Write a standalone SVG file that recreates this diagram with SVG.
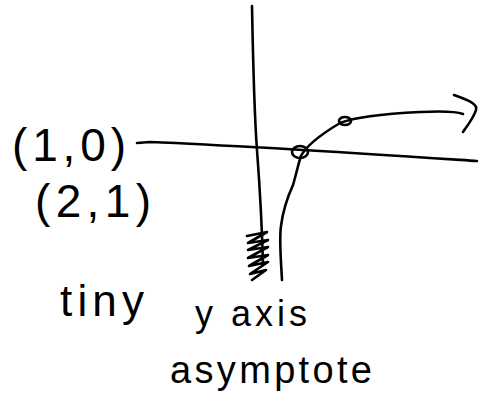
<svg xmlns="http://www.w3.org/2000/svg" width="487" height="405" viewBox="0 0 487 405">
<style>
.ln{fill:none;stroke:#000;stroke-width:2.6;stroke-linecap:round;stroke-linejoin:round}
.t{font-family:"Liberation Sans","DejaVu Sans",sans-serif;fill:#000}
</style>
<rect width="487" height="405" fill="#fff"/>
<g id="connectors">
<path id="y-axis" class="ln" d="M252,6 C253,60 254,110 257,150 C260,190 262,225 263,265"/>
<path id="x-axis" class="ln" d="M137,143 L150,142 C250,146 370,154 477,161"/>
<path id="curve" class="ln" d="M282,280 C281,260 279,240 281,226 C283,210 288,196 293,185 C296,175 298,165 301,156 C305,148 315,138 340,123 C355,117 380,114 420,112 C440,111 455,111 463,114"/>
<path id="arrowhead" class="ln" d="M454,95 C468,100 478,104 476,110 C474,117 468,125 463,132"/>
<ellipse class="ln" cx="300" cy="152" rx="8" ry="6" stroke-width="3.2"/>
<ellipse class="ln" cx="345" cy="121" rx="6" ry="4" stroke-width="2.6"/>
<path id="squiggle" class="ln" stroke-width="2" d="M247,236 L267,232 L248,243 L268,240 L248,250 L268,247 L248,258 L268,255 L249,266 L268,262 L250,274 L266,270 L252,280"/>
</g>
<g id="label-10"><text class="t" x="12" y="161" font-size="46" textLength="114" lengthAdjust="spacing">(1,0)</text></g>
<g id="label-21"><text class="t" x="35" y="217" font-size="46" textLength="116" lengthAdjust="spacing">(2,1)</text></g>
<g id="label-tiny"><text class="t" x="60" y="316" font-size="44" textLength="84" lengthAdjust="spacing">tiny</text></g>
<g id="label-yaxis"><text class="t" x="195" y="326" font-size="36" textLength="112" lengthAdjust="spacing">y axis</text></g>
<g id="label-asymptote"><text class="t" x="170" y="383" font-size="38" textLength="202" lengthAdjust="spacing">asymptote</text></g>
</svg>
